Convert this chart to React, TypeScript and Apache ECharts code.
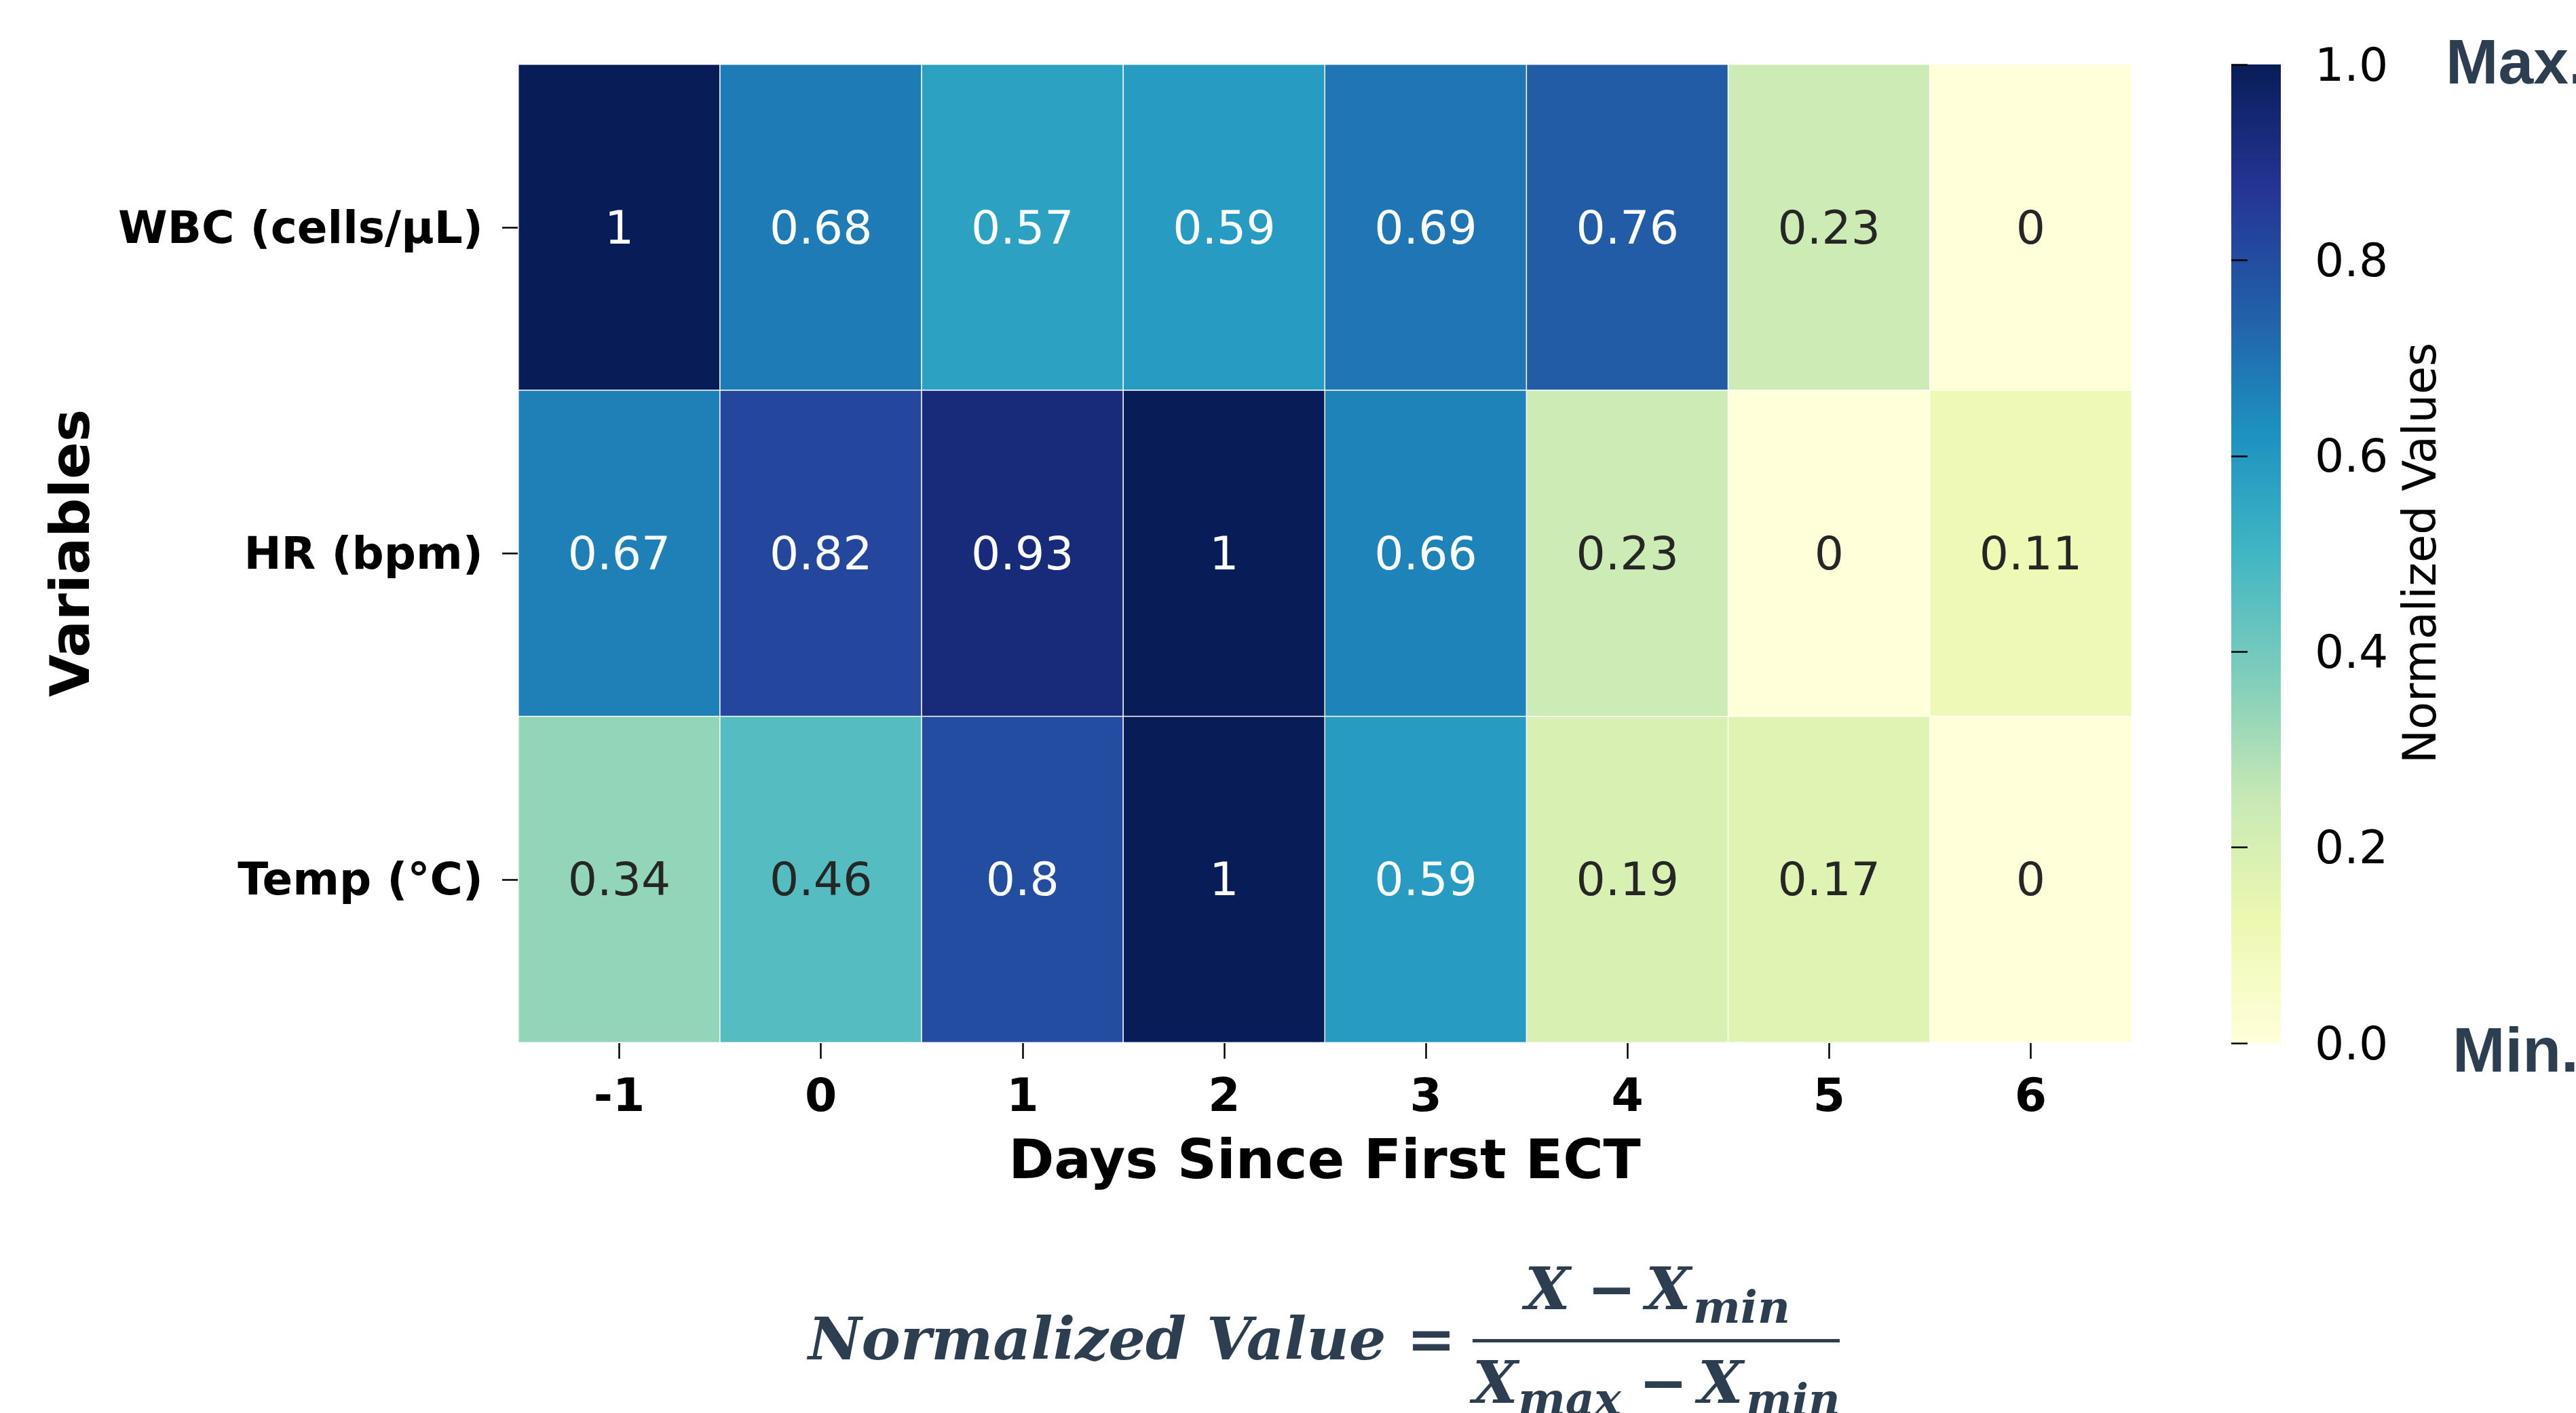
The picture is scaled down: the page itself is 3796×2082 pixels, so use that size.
import React, { useEffect, useRef } from "react";
import * as echarts from "echarts";

// ---- data ----
const days = ["-1", "0", "1", "2", "3", "4", "5", "6"];
const variables = ["WBC (cells/µL)", "HR (bpm)", "Temp (°C)"];
const wbcValues = [1, 0.68, 0.57, 0.59, 0.69, 0.76, 0.23, 0];
const hrValues = [0.67, 0.82, 0.93, 1, 0.66, 0.23, 0, 0.11];
const tempValues = [0.34, 0.46, 0.8, 1, 0.59, 0.19, 0.17, 0];
const colorbarMin = 0;
const colorbarMax = 1;
const colorbarStep = 0.2;

// ---- style ----
const YLGNBU = ["#ffffd9", "#edf8b1", "#c7e9b4", "#7fcdbb", "#41b6c4", "#1d91c0", "#225ea8", "#253494", "#081d58"];
const SLATE = "#2c3e50";
const SANS = "DejaVu Sans";

const W = 3796;
const H = 2082;
const GRID = { left: 764, top: 95, width: 2377, height: 1441 };
const CBAR = { left: 3288, top: 95, width: 73, height: 1442 };

function txt(x: number, y: number, text: string, style: any, extra: any = {}) {
  return {
    type: "text",
    x,
    y,
    silent: true,
    z: 10,
    ...extra,
    style: {
      text,
      fill: style.fill || "#000",
      fontFamily: style.fontFamily || SANS,
      fontSize: style.fontSize,
      fontWeight: style.fontWeight || "normal",
      fontStyle: style.fontStyle || "normal",
      align: style.align || "left",
      verticalAlign: "middle",
      textAlign: style.align || "left",
      textVerticalAlign: "middle",
    },
  };
}

export default function App() {
  const ref = useRef<HTMLDivElement>(null);

  useEffect(() => {
    if (!ref.current) return;
    const chart = echarts.init(ref.current, null, { renderer: "svg" });

    const rows = [wbcValues, hrValues, tempValues];
    const data: any[] = [];
    rows.forEach((row, yi) => {
      row.forEach((v, xi) => {
        data.push({
          value: [xi, yi, v],
          label: { color: v > 0.5 ? "#ffffff" : "#262626" },
        });
      });
    });

    const gradStops = YLGNBU.map((c, i) => ({ offset: 1 - i / (YLGNBU.length - 1), color: c })).reverse();

    const fm = { fontFamily: "DejaVu Serif", fontStyle: "italic", fontWeight: "bold", fill: SLATE };
    const fmOp = { fontFamily: "DejaVu Serif", fontStyle: "normal", fontWeight: "bold", fill: SLATE };

    const option: any = {
      animation: false,
      backgroundColor: "#ffffff",
      grid: [
        { ...GRID, containLabel: false },
        { ...CBAR, containLabel: false },
      ],
      xAxis: [
        {
          type: "category",
          data: days,
          gridIndex: 0,
          position: "bottom",
          axisLine: { show: false },
          axisTick: { show: true, alignWithLabel: true, length: 24, lineStyle: { color: "#000", width: 2.5 } },
          axisLabel: {
            interval: 0,
            margin: 43,
            lineHeight: 69,
            fontFamily: SANS,
            fontSize: 68,
            fontWeight: "bold",
            color: "#000",
          },
          splitLine: { show: false },
        },
        { type: "value", gridIndex: 1, show: false, min: 0, max: 1 },
      ],
      yAxis: [
        {
          type: "category",
          data: variables,
          gridIndex: 0,
          inverse: true,
          axisLine: { show: false },
          axisTick: { show: true, alignWithLabel: true, length: 24, lineStyle: { color: "#000", width: 2.5 } },
          axisLabel: {
            interval: 0,
            margin: 52,
            fontFamily: SANS,
            fontSize: 66,
            fontWeight: "bold",
            color: "#000",
          },
          splitLine: { show: false },
        },
        {
          type: "value",
          gridIndex: 1,
          position: "right",
          z: 10,
          min: colorbarMin,
          max: colorbarMax,
          interval: colorbarStep,
          axisLine: { show: false },
          axisTick: { show: true, inside: false, length: 24, lineStyle: { color: "#000", width: 2.5 } },
          axisLabel: {
            margin: 50,
            fontFamily: SANS,
            fontSize: 68,
            color: "#000",
            formatter: (v: number) => v.toFixed(1),
          },
          splitLine: { show: false },
        },
      ],
      visualMap: {
        type: "continuous",
        show: false,
        min: colorbarMin,
        max: colorbarMax,
        seriesIndex: 0,
        inRange: { color: YLGNBU },
      },
      series: [
        {
          type: "heatmap",
          xAxisIndex: 0,
          yAxisIndex: 0,
          data,
          itemStyle: { borderColor: "#ffffff", borderWidth: 1.5 },
          label: {
            show: true,
            fontFamily: SANS,
            fontSize: 68,
            formatter: (p: any) => String(p.value[2]),
          },
          emphasis: { disabled: true },
        },
        {
          type: "scatter",
          xAxisIndex: 1,
          yAxisIndex: 1,
          data: [],
          silent: true,
        },
      ],
      graphic: [
        {
          type: "rect",
          silent: true,
          z: 1,
          shape: { x: CBAR.left, y: CBAR.top, width: CBAR.width, height: CBAR.height },
          style: {
            fill: new echarts.graphic.LinearGradient(0, 0, 0, 1, gradStops),
          },
        },
        txt(1952, 1708, "Days Since First ECT", { fontSize: 81, fontWeight: "bold", align: "center" }),
        txt(103, 815, "Variables", { fontSize: 81, fontWeight: "bold", align: "center" }, { rotation: Math.PI / 2 }),
        txt(3566, 815, "Normalized Values", { fontSize: 67, align: "center" }, { rotation: Math.PI / 2 }),
        txt(3604, 91, "Max.", { fontSize: 93, fontWeight: "bold", fontFamily: "Liberation Sans", fill: SLATE }),
        txt(3614, 1547, "Min.", { fontSize: 93, fontWeight: "bold", fontFamily: "Liberation Sans", fill: SLATE }),
        // formula
        txt(1191, 1972, "Normalized Value", { ...fm, fontSize: 86 }),
        txt(2073, 1972, "=", { ...fmOp, fontSize: 86 }),
        txt(2247, 1898, "X", { ...fm, fontSize: 86 }),
        txt(2339, 1898, "−", { ...fmOp, fontSize: 86 }),
        txt(2425, 1898, "X", { ...fm, fontSize: 86 }),
        txt(2495, 1926, "min", { ...fm, fontSize: 66 }),
        txt(2170, 2036, "X", { ...fm, fontSize: 86 }),
        txt(2237, 2061, "max", { ...fm, fontSize: 66 }),
        txt(2415, 2036, "−", { ...fmOp, fontSize: 86 }),
        txt(2502, 2036, "X", { ...fm, fontSize: 86 }),
        txt(2573, 2061, "min", { ...fm, fontSize: 64 }),
        {
          type: "rect",
          silent: true,
          shape: { x: 2170, y: 1973, width: 541, height: 5 },
          style: { fill: SLATE },
        },
      ],
    };

    chart.setOption(option);
    return () => chart.dispose();
  }, []);

  return (
    <div
      ref={ref}
      style={{ position: "fixed", left: 0, top: 0, width: W, height: H, background: "#fff" }}
    />
  );
}
